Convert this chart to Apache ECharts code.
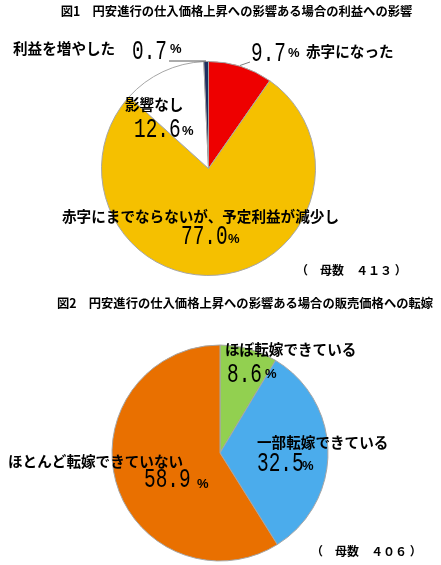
<!DOCTYPE html>
<html><head><meta charset="utf-8">
<script src="https://cdn.jsdelivr.net/npm/echarts@6/dist/echarts.min.js"></script>
<style>html,body{margin:0;padding:0;background:#fff}#c{width:441px;height:565px}</style>
</head><body><div id="c"></div>
<script>
// ---- data ----
const title1 = '図1　円安進行の仕入価格上昇への影響ある場合の利益への影響';
const title2 = '図2　円安進行の仕入価格上昇への影響ある場合の販売価格への転嫁';
const pie1Names = ['赤字になった', '赤字にまでならないが、予定利益が減少し', '影響なし', '利益を増やした'];
const pie1Values = [9.7, 77.0, 12.6, 0.7];
const pie2Names = ['ほぼ転嫁できている', '一部転嫁できている', 'ほとんど転嫁できていない'];
const pie2Values = [8.6, 32.5, 58.9];
const sampleSizes = [413, 406];

// ---- styling ----
const pie1Colors = ['#EE0000', '#F5C000', '#FFFFFF', '#1F2F5F'];
const pie2Colors = ['#92D050', '#4BACEC', '#E97000'];
const JP = '"Noto Sans CJK JP", sans-serif';
const NUM = '"Liberation Mono", "DejaVu Sans Mono", monospace';

// label layout [nameX, nameY, numX, numY, pctX, pctY]
const pie1Pos = [
  [306, 51, 251, 53.5, 288, 53],
  [62, 216, 181, 236.5, 228, 239],
  [125, 104, 134, 130, 182, 131],
  [13, 48.5, 132, 52, 170, 49]
];
const pie2Pos = [
  [225, 349, 227, 375, 265, 374],
  [257, 442, 257, 463.5, 302, 466],
  [8, 461, 144, 480, 197, 484]
];

const chart = echarts.init(document.getElementById('c'), null, {renderer: 'canvas'});

function fw(n) { return String(n).replace(/\d/g, d => String.fromCharCode(d.charCodeAt(0) + 0xFEE0)); }

function mkData(names, values, colors) {
  return names.map((n, i) => ({name: n, value: values[i], itemStyle: {color: colors[i]}}));
}

const graphics = [];
function addText(x, y, text, size, font, weight, extra) {
  graphics.push(Object.assign({
    type: 'text', x: x, y: y, z: 100, silent: true,
    style: {text: text, fontSize: size, fontFamily: font, fontWeight: weight, fill: '#000',
            textAlign: 'left', textVerticalAlign: 'middle'}
  }, extra || {}));
}
function addLabels(names, values, pos) {
  names.forEach((n, i) => {
    const p = pos[i];
    addText(p[0], p[1], n, 14.6, JP, 'bold');
    addText(p[2], p[3], values[i].toFixed(1), 27, NUM, 'normal', {scaleX: 0.72});
    addText(p[4], p[5], '%', 13, '"Liberation Sans", sans-serif', 'bold');
  });
}
addText(236.5, 11, title1, 12.3, JP, 'bold');
graphics[graphics.length - 1].style.textAlign = 'center';
addText(245, 303, title2, 12.3, JP, 'bold');
graphics[graphics.length - 1].style.textAlign = 'center';
addLabels(pie1Names, pie1Values, pie1Pos);
addLabels(pie2Names, pie2Values, pie2Pos);
addText(296, 270, '（　母数　' + fw(sampleSizes[0]) + ' ）', 12, JP, 'bold');
addText(311, 551, '（　母数　' + fw(sampleSizes[1]) + ' ）', 12, JP, 'bold');
// leader lines
graphics.push({type: 'polyline', z: 100, silent: true, shape: {points: [[169, 61], [206, 61]]}, style: {stroke: '#595959', lineWidth: 1}});
graphics.push({type: 'polyline', z: 100, silent: true, shape: {points: [[240, 65.5], [250, 62]]}, style: {stroke: '#7f7f7f', lineWidth: 1}});

const pieBase = {
  type: 'pie', startAngle: 90, clockwise: true, silent: true, animation: false, z: 1,
  label: {show: false}, labelLine: {show: false}, emphasis: {disabled: true},
  itemStyle: {borderColor: '#A6A6A6', borderWidth: 1}
};

chart.setOption({
  animation: false,
  series: [
    Object.assign({}, pieBase, {center: [208.5, 168.5], radius: 107, data: mkData(pie1Names, pie1Values, pie1Colors)}),
    Object.assign({}, pieBase, {center: [220, 453], radius: 108, data: mkData(pie2Names, pie2Values, pie2Colors)})
  ],
  graphic: {elements: graphics}
});
</script></body></html>
